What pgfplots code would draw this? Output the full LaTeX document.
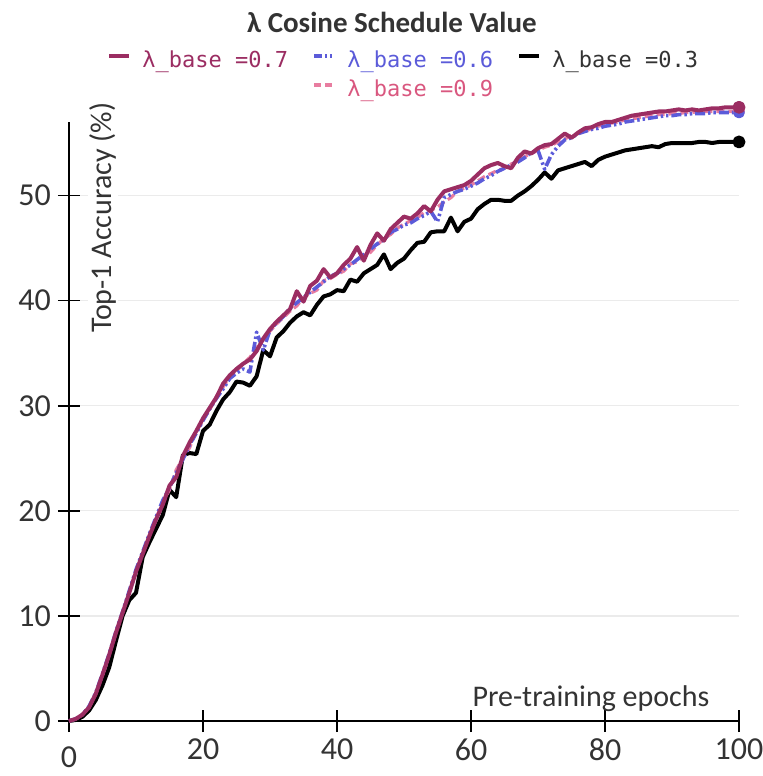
\documentclass[border=0pt]{standalone}
\usepackage{fontspec}
\setmainfont{Carlito}
\newfontfamily\legfont{DejaVu Sans Mono}
\usepackage{pgfplots}
\usepackage{pgfplotstable}
\pgfplotsset{compat=1.18}
\definecolor{cmag}{HTML}{9B2D62}
\definecolor{cblue}{HTML}{5B5BD9}
\definecolor{cpink}{HTML}{E87DA0}
\definecolor{cpinktxt}{HTML}{D9577F}
\definecolor{ctext}{HTML}{333333}

\pgfplotstableread{
e m b p k
0 0 0 0 0
1 0.2 0.2 0.2 0.1
2 0.6 0.6 0.6 0.4
3 1.3 1.4 1.3 1.0
4 2.6 2.7 2.6 2.0
5 4.4 4.5 4.4 3.4
6 6.3 6.4 6.3 5.1
7 8.4 8.5 8.4 7.6
8 10.3 10.4 10.3 10.0
9 12.2 12.4 12.3 11.5
10 14.2 14.4 14.3 12.2
11 15.9 16.1 16.0 15.6
12 17.6 17.8 17.7 17.0
13 19.2 19.4 19.3 18.3
14 20.6 21.0 20.8 19.6
15 22.4 22.2 22.0 22.0
16 23.2 23.6 23.9 21.3
17 25.2 24.9 25.0 25.3
18 26.5 26.3 26.0 25.5
19 27.6 27.4 27.6 25.4
20 28.8 28.6 28.7 27.6
21 29.8 29.7 29.6 28.2
22 30.8 30.7 30.9 29.5
23 32.1 31.6 31.8 30.6
24 32.9 32.6 32.7 31.3
25 33.5 33.1 33.3 32.3
26 34.0 33.5 34.0 32.2
27 34.4 33.2 34.6 31.9
28 35.2 37.0 35.5 32.8
29 36.4 35.3 36.3 35.3
30 37.3 37.2 37.1 34.7
31 38.0 37.9 37.8 36.5
32 38.6 38.5 38.4 37.1
33 39.2 39.3 39.0 37.9
34 40.9 39.8 39.5 38.5
35 39.9 40.3 40.3 38.9
36 41.4 40.8 40.7 38.6
37 41.9 41.3 41.0 39.6
38 43.0 41.8 41.9 40.4
39 42.2 42.3 42.1 40.6
40 42.6 42.6 42.5 41.0
41 43.4 43.0 42.8 40.9
42 44.0 43.4 43.5 42.0
43 45.1 43.9 43.7 41.8
44 43.8 44.4 44.3 42.6
45 45.3 44.9 44.6 43.0
46 46.4 45.4 45.3 43.4
47 45.7 45.8 45.9 44.4
48 46.8 46.5 46.3 43.0
49 47.4 46.8 46.9 43.6
50 48.0 47.2 47.3 44.0
51 47.8 47.4 47.6 44.8
52 48.3 47.8 47.9 45.5
53 49.0 48.1 48.4 45.6
54 48.5 48.5 48.6 46.5
55 49.6 47.5 48.9 46.6
56 50.4 49.8 49.4 46.6
57 50.6 50.1 49.8 47.9
58 50.8 50.4 50.4 46.6
59 51.0 50.6 50.7 47.5
60 51.4 50.9 51.0 47.8
61 52.0 51.2 51.4 48.7
62 52.6 51.6 51.8 49.2
63 52.9 51.9 52.1 49.6
64 53.1 52.3 52.4 49.6
65 52.8 52.6 52.6 49.5
66 52.6 52.9 53.0 49.5
67 53.6 53.2 53.3 50.0
68 54.2 53.6 53.7 50.4
69 54.0 54.1 54.0 50.9
70 54.5 54.3 54.3 51.5
71 54.8 52.5 54.6 52.2
72 54.9 53.9 54.8 51.6
73 55.4 54.7 55.1 52.4
74 55.9 55.3 55.4 52.6
75 55.5 55.5 55.7 52.8
76 56.0 55.9 55.9 53.0
77 56.4 56.1 56.1 53.2
78 56.5 56.3 56.4 52.8
79 56.8 56.4 56.6 53.4
80 57.0 56.6 56.8 53.7
81 57.0 56.7 56.9 53.9
82 57.2 56.8 57.0 54.1
83 57.4 57.0 57.2 54.3
84 57.6 57.1 57.3 54.4
85 57.7 57.2 57.4 54.5
86 57.8 57.3 57.5 54.6
87 57.9 57.4 57.6 54.7
88 58.0 57.5 57.7 54.6
89 58.0 57.6 57.7 54.9
90 58.1 57.6 57.8 55.0
91 58.2 57.7 57.8 55.0
92 58.1 57.7 57.9 55.0
93 58.2 57.8 57.9 55.0
94 58.1 57.8 58.0 55.1
95 58.2 57.8 58.0 55.1
96 58.3 57.9 58.0 55.0
97 58.3 57.9 58.0 55.1
98 58.4 57.9 58.0 55.1
99 58.4 57.9 58.0 55.1
100 58.4 57.9 58.0 55.1
}\data

\begin{document}
\begin{tikzpicture}
\begin{axis}[name=ax, scale only axis, width=335pt, height=299.5pt,
  xmin=0, xmax=100, ymin=0, ymax=57, clip=false,
  axis lines*=left, axis line style={black, line width=1pt},
  xtick={20,40,...,100}, extra x ticks={0},
  extra x tick style={xticklabel style={yshift=-4pt}},
  ytick={0,10,...,50},
  tick align=center, major tick length=11pt, tick style={black, line width=0.8pt},
  ymajorgrids, grid style={black!8, line width=0.6pt},
  tick label style={font=\fontsize{16}{19}\selectfont, text=ctext},
  /pgf/number format/assume math mode=true,
  title={λ Cosine Schedule Value},
  title style={at={(axis description cs:0.482,1.147)}, anchor=center,
    font=\bfseries\fontsize{14.5}{17}\selectfont, text=ctext},
  xlabel={Pre-training epochs},
  xlabel style={at={(axis description cs:0.779,0.0367)}, anchor=center,
    font=\fontsize{15}{18}\selectfont, text=ctext},
  ylabel={Top-1 Accuracy (\%)},
  ylabel style={at={(axis description cs:0.0507,0.84)}, anchor=center,
    font=\fontsize{15}{18}\selectfont, text=ctext, fill=white, inner sep=1pt},
  legend columns=3,
  legend style={draw=none, fill=none, at={(axis description cs:0.0567,1.118)},
    anchor=north west, inner sep=0pt,
    font=\legfont\fontsize{11}{12}\selectfont,
    nodes={inner sep=0pt, text height=8pt, text depth=2.5pt},
    /tikz/every odd column/.append style={column sep=5.5pt},
    row sep=4pt},
  legend image code/.code={\draw[#1] (0pt,3pt) -- (10pt,3pt);},
]
\addlegendimage{cmag, line width=2pt}
\addlegendentry{\makebox[85pt][l]{\textcolor{cmag}{λ\_base =0.7}}}
\addlegendimage{cblue, line width=2pt, dash pattern=on 4pt off 1.5pt on 1pt off 1.5pt on 1pt off 1.5pt}
\addlegendentry{\makebox[85pt][l]{\textcolor{cblue}{λ\_base =0.6}}}
\addlegendimage{black, line width=2pt}
\addlegendentry{\makebox[85pt][l]{\textcolor{ctext}{λ\_base =0.3}}}
\addlegendimage{empty legend}
\addlegendentry{}
\addlegendimage{cpink, line width=2pt, dash pattern=on 3.5pt off 2pt}
\addlegendentry{\makebox[85pt][l]{\textcolor{cpinktxt}{λ\_base =0.9}}}

\addplot[black, line width=2pt, line join=round, mark=*, mark indices={101}, mark size=2.2pt, forget plot] table[x=e,y=k]{\data};
\addplot[cpink, line width=1.6pt, line join=round, dash pattern=on 4pt off 2pt, mark=*, mark indices={101}, mark size=2.2pt, mark options={solid}, forget plot] table[x=e,y=p]{\data};
\addplot[cblue, line width=1.8pt, line join=round, dash pattern=on 5pt off 1.5pt on 1.2pt off 1.5pt on 1.2pt off 1.5pt, mark=*, mark indices={101}, mark size=2pt, mark options={solid}, forget plot] table[x=e,y=b]{\data};
\addplot[cmag, line width=2pt, line join=round, mark=*, mark indices={101}, mark size=2.2pt, forget plot] table[x=e,y=m]{\data};
\end{axis}
\pgfresetboundingbox
\path[use as bounding box] ([shift={(-34.5pt,-27.5pt)}]ax.south west) rectangle ([shift={(12pt,61pt)}]ax.north east);
\end{tikzpicture}
\end{document}
